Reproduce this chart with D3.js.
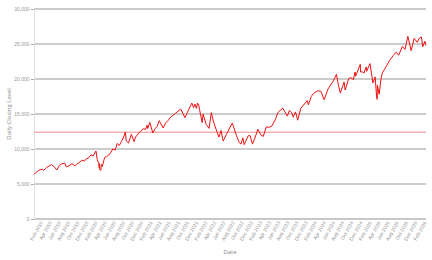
<!DOCTYPE html>
<html lang="en">

<head>
    <meta charset="UTF-8">
    <title>Daily Closing Level</title>
    <script src="https://cdn.jsdelivr.net/npm/d3@7"></script>
</head>

<body>
    <script>
        // closing levels (a few points per month)
        const dates = [
            "2019-01-02", "2019-01-15", "2019-01-31", "2019-02-15", "2019-02-28", "2019-03-08", "2019-03-29",
            "2019-04-15", "2019-04-30", "2019-05-15", "2019-06-03", "2019-06-20", "2019-07-03", "2019-07-26",
            "2019-08-05", "2019-08-15", "2019-08-30", "2019-09-12", "2019-10-02", "2019-10-15", "2019-10-31",
            "2019-11-15", "2019-11-29", "2019-12-03", "2019-12-16", "2019-12-31",
            "2020-01-17", "2020-01-31", "2020-02-19", "2020-02-28", "2020-03-09", "2020-03-12", "2020-03-13",
            "2020-03-16", "2020-03-23", "2020-03-26", "2020-04-01", "2020-04-17", "2020-04-30", "2020-05-15",
            "2020-05-29", "2020-06-10", "2020-06-26", "2020-07-10", "2020-07-24", "2020-08-07", "2020-08-20",
            "2020-09-02", "2020-09-08", "2020-09-23", "2020-10-12", "2020-10-30", "2020-11-09", "2020-11-30",
            "2020-12-15", "2020-12-31",
            "2021-01-15", "2021-01-25", "2021-01-29", "2021-02-12", "2021-03-04", "2021-03-19", "2021-04-01",
            "2021-04-16", "2021-05-12", "2021-05-28", "2021-06-15", "2021-06-30", "2021-07-16", "2021-08-03",
            "2021-08-31", "2021-09-07", "2021-10-04", "2021-10-22", "2021-11-19", "2021-12-01", "2021-12-10",
            "2021-12-20", "2021-12-27",
            "2022-01-04", "2022-01-10", "2022-01-27", "2022-02-02", "2022-02-23", "2022-03-14", "2022-03-29",
            "2022-04-11", "2022-04-29", "2022-05-19", "2022-06-02", "2022-06-16", "2022-07-08", "2022-07-29",
            "2022-08-16", "2022-09-13", "2022-09-30", "2022-10-13", "2022-10-25", "2022-11-03", "2022-11-30",
            "2022-12-13", "2022-12-28",
            "2023-01-13", "2023-02-02", "2023-02-24", "2023-03-10", "2023-03-31", "2023-04-14", "2023-05-05",
            "2023-05-31", "2023-06-15", "2023-07-18", "2023-08-18", "2023-08-31", "2023-09-15", "2023-09-26",
            "2023-10-11", "2023-10-26", "2023-11-15", "2023-12-28",
            "2024-01-05", "2024-01-24", "2024-02-09", "2024-03-07", "2024-03-28", "2024-04-19", "2024-05-15",
            "2024-06-20", "2024-07-10", "2024-07-24", "2024-08-05", "2024-08-30", "2024-09-06", "2024-09-30",
            "2024-10-15", "2024-10-31", "2024-11-11", "2024-11-15", "2024-12-16", "2024-12-18", "2024-12-31",
            "2025-01-10", "2025-01-24", "2025-01-27", "2025-02-19", "2025-02-28", "2025-03-10", "2025-03-25",
            "2025-04-04", "2025-04-08", "2025-04-09", "2025-04-21", "2025-05-02", "2025-05-12", "2025-06-06",
            "2025-06-30", "2025-07-24", "2025-08-12", "2025-08-29", "2025-09-22", "2025-10-10", "2025-10-29",
            "2025-11-20", "2025-12-10", "2025-12-31",
            "2026-01-12", "2026-01-28", "2026-02-05", "2026-02-20", "2026-02-27"
        ];
        const closes = [
            6360, 6650, 6900, 7050, 7100, 6950, 7380,
            7600, 7780, 7500, 7000, 7650, 7850, 7990,
            7450, 7500, 7700, 7900, 7600, 7850, 8080,
            8350, 8400, 8250, 8600, 8730,
            9170, 8990, 9720, 8460, 7900, 7300, 7900,
            7020, 6990, 7800, 7500, 8800, 8900, 9150,
            9550, 10000, 9850, 10800, 10500, 11100, 11600,
            12420, 11130, 10850, 12090, 11050, 11700, 12270,
            12600, 12890,
            12800, 13400, 12930, 13800, 12300, 12900, 13200,
            14040, 13000, 13700, 14100, 14550, 14800, 15100,
            15600, 15700, 14470, 15300, 16570, 15900, 16400,
            15800, 16570,
            16300, 15600, 13770, 15000, 13500, 12950, 15200,
            14000, 12850, 11700, 12650, 11130, 12100, 13000,
            13700, 11900, 10970, 10690, 11600, 10620, 11900,
            11900, 10700,
            11540, 12800, 11950, 11800, 13180, 13080, 13250,
            14250, 15180, 15840, 14700, 15500, 15200, 14550,
            15300, 14110, 15800, 16900,
            16300, 17500, 17960, 18300, 18250, 17040, 18580,
            19750, 20680, 19030, 17990, 19570, 18420, 20060,
            20200, 19900, 21000, 20400, 22100, 21000, 21010,
            20850, 21730, 21100, 22200, 20880, 19430, 20300,
            17400, 17090, 19140, 17810, 19880, 20870, 21760,
            22680, 23360, 23840, 23400, 24650, 24220, 26100,
            24050, 25800, 25250,
            25800, 26000, 24600, 25400, 24800
        ];
        const refLevel = 12400;
        const yTicks = [0, 5000, 10000, 15000, 20000, 25000, 30000];

        const width = 432;
        const height = 260;
        const margin = { top: 9, right: 6, bottom: 41, left: 34 };

        const parse = d3.timeParse("%Y-%m-%d");
        const series = dates.map((d, i) => ({ date: parse(d), value: closes[i] }));

        const svg = d3.select("body").append("svg")
            .attr("width", width)
            .attr("height", height)
            .style("font-family", "'Open Sans', sans-serif");

        const x = d3.scaleTime()
            .domain(d3.extent(series, d => d.date))
            .range([margin.left, width - margin.right]);

        const y = d3.scaleLinear()
            .domain([0, 30000])
            .range([height - margin.bottom, margin.top]);

        // gridlines
        svg.append("g")
            .selectAll("line")
            .data(yTicks)
            .join("line")
            .attr("x1", margin.left)
            .attr("x2", width - margin.right)
            .attr("y1", d => y(d))
            .attr("y2", d => y(d))
            .attr("stroke", d => d === 0 ? "#c8c8c8" : "#9a9a9a")
            .attr("stroke-width", d => d === 0 ? 2 : 1.2);

        // y axis
        const yAxis = svg.append("g")
            .attr("transform", `translate(${margin.left},0)`)
            .call(d3.axisLeft(y).tickValues(yTicks).tickFormat(d3.format(",")).tickSize(3).tickPadding(1.5));
        yAxis.select(".domain").attr("stroke", "#e2e2e2");
        yAxis.selectAll(".tick line").attr("stroke", "#aaa");
        yAxis.selectAll("text").attr("fill", "#999").style("font-size", "5px");

        // x axis, a label every second month from Feb
        const xTicks = d3.timeMonth.range(new Date(2019, 1, 1), x.domain()[1])
            .filter(d => d.getMonth() % 2 === 1);
        const xAxis = svg.append("g")
            .attr("transform", `translate(0,${height - margin.bottom})`)
            .call(d3.axisBottom(x).tickValues(xTicks).tickFormat(d3.timeFormat("%b %Y")).tickSize(0).tickPadding(4));
        xAxis.select(".domain").remove();
        xAxis.selectAll("text")
            .attr("fill", "#999")
            .style("font-size", "5px")
            .attr("text-anchor", "end")
            .attr("dx", "-0.2em")
            .attr("dy", "0.3em")
            .attr("transform", "rotate(-60)");

        // reference level
        svg.append("line")
            .attr("x1", margin.left)
            .attr("x2", width - margin.right)
            .attr("y1", y(refLevel))
            .attr("y2", y(refLevel))
            .attr("stroke", "#f26a6a")
            .attr("stroke-width", 0.8);

        // the series
        svg.append("path")
            .datum(series)
            .attr("fill", "none")
            .attr("stroke", "#ee1111")
            .attr("stroke-width", 1)
            .attr("stroke-linejoin", "round")
            .attr("d", d3.line().x(d => x(d.date)).y(d => y(d.value)));

        // axis titles
        svg.append("text")
            .attr("x", (margin.left + width - margin.right) / 2)
            .attr("y", 254)
            .attr("text-anchor", "middle")
            .attr("fill", "#888")
            .style("font-size", "6px")
            .text("Date");

        svg.append("text")
            .attr("transform", `translate(11,${(margin.top + height - margin.bottom) / 2}) rotate(-90)`)
            .attr("text-anchor", "middle")
            .attr("fill", "#888")
            .style("font-size", "6px")
            .text("Daily Closing Level");
    </script>
    <style>
        * {
            margin: 0;
            padding: 0;
        }
    </style>
</body>

</html>
